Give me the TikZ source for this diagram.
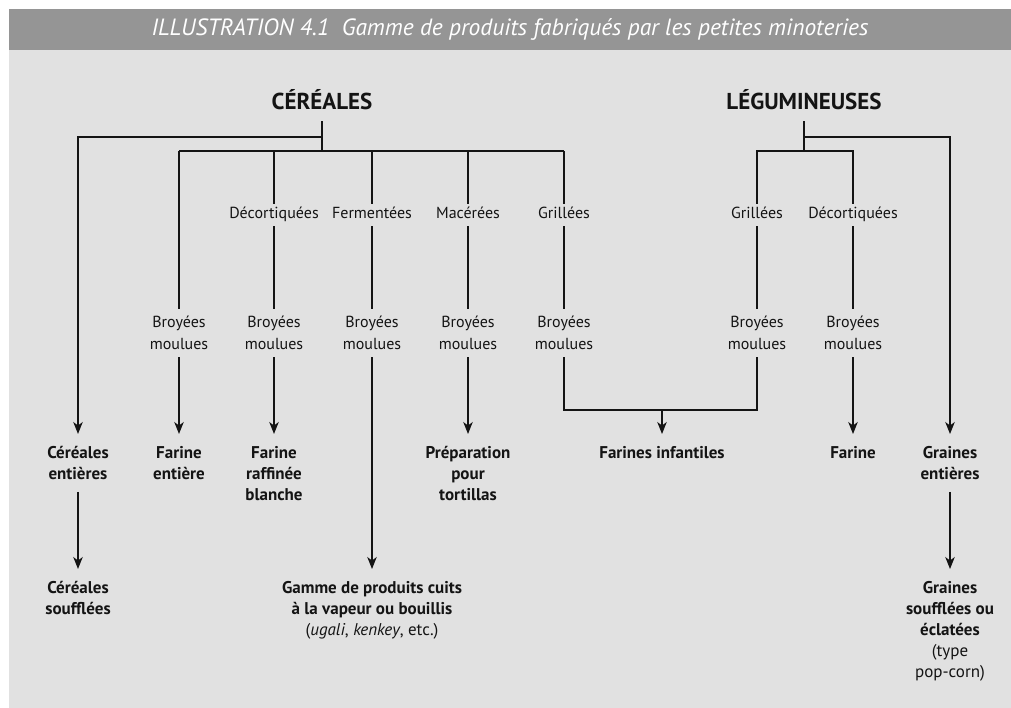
\documentclass[tikz,border=0pt]{standalone}
\usepackage{fontspec}
\setmainfont{PT Sans}
\usetikzlibrary{arrows.meta}
\definecolor{band}{HTML}{959595}
\definecolor{bodyg}{HTML}{E1E1E1}
\definecolor{ink}{HTML}{141414}
\tikzset{
  conn/.style={draw=ink, line width=1.2pt},
  arr/.style={conn, -{Stealth[length=12pt,width=9.5pt,inset=3.5pt]}},
  head/.style={font=\fontsize{23}{27}\selectfont\bfseries, text=ink, inner xsep=0pt, inner ysep=11pt},
  lab/.style={font=\fontsize{16}{22}\selectfont, text=ink, inner xsep=0pt, inner ysep=3pt, text height=12pt, text depth=4.2pt},
  bm/.style={font=\fontsize{16}{22}\selectfont, text=ink, align=center, inner xsep=0pt, inner ysep=7pt},
  prod/.style={font=\fontsize{17}{21}\selectfont\bfseries, text=ink, align=center, inner xsep=0pt, inner ysep=12pt, anchor=north},
}
\begin{document}
\begin{tikzpicture}[x=1pt,y=-1pt]
\useasboundingbox (0,0) rectangle (1011,708);
\fill[white] (0,0) rectangle (1011,708);
\fill[bodyg] (9,9) rectangle (1011,708);
\fill[band] (9,9) rectangle (1011,50);
\node[font=\fontsize{23.5}{27}\selectfont\itshape, text=white, inner sep=0pt] (title) at (510,29.5)
  {ILLUSTRATION 4.1\ \ Gamme de produits fabriqués par les petites minoteries};

% headings
\node[head] (cer) at (322,100) {CÉRÉALES};
\node[head] (leg) at (804,100) {LÉGUMINEUSES};
\coordinate (cj) at (322,151);
\coordinate (cb) at (322,137);
\coordinate (lj) at (804,151);
\coordinate (lb) at (804,137);

% treatment labels
\node[lab] (dec1) at (274,215) {Décortiquées};
\node[lab] (fer)  at (372,215) {Fermentées};
\node[lab] (mac)  at (468,215) {Macérées};
\node[lab] (gri1) at (564,215) {Grillées};
\node[lab] (gri2) at (757,215) {Grillées};
\node[lab] (dec2) at (853,215) {Décortiquées};

% Broyees moulues
\node[bm] (bm1) at (179,333) {Broyées\\moulues};
\node[bm] (bm2) at (274,333) {Broyées\\moulues};
\node[bm] (bm3) at (372,333) {Broyées\\moulues};
\node[bm] (bm4) at (468,333) {Broyées\\moulues};
\node[bm] (bm5) at (564,333) {Broyées\\moulues};
\node[bm] (bm6) at (757,333) {Broyées\\moulues};
\node[bm] (bm7) at (853,333) {Broyées\\moulues};

% products, first row
\node[prod] (ce)   at (78,434)  {Céréales\\entières};
\node[prod] (fe)   at (179,434) {Farine\\entière};
\node[prod] (fr)   at (274,434) {Farine\\raffinée\\blanche};
\node[prod] (prep) at (468,434) {Préparation\\pour\\tortillas};
\node[prod] (fi)   at (662,434) {Farines infantiles};
\node[prod] (far)  at (853,434) {Farine};
\node[prod] (ge)   at (950,434) {Graines\\entières};

% products, second row
\node[prod] (cs)  at (78,569)  {Céréales\\soufflées};
\node[prod] (gam) at (372,569) {Gamme de produits cuits\\à la vapeur ou bouillis\\{\mdseries(\textit{ugali}, \textit{kenkey}, etc.)}};
\node[prod] (gs)  at (950,569) {Graines\\soufflées ou\\éclatées\\{\mdseries(type}\\{\mdseries pop-corn)}};

% cereal tree
\draw[conn] (cer.south) -- (cj);
\draw[arr] (cb) -| (ce.north);
\draw[conn] (bm1.north |- cj) -- (gri1.north |- cj);
\draw[conn] (bm1.north |- cj) -- (bm1.north);
\foreach \n in {dec1,fer,mac,gri1} {\draw[conn] (\n.north |- cj) -- (\n.north);}
\draw[conn] (dec1.south) -- (bm2.north);
\draw[conn] (fer.south) -- (bm3.north);
\draw[conn] (mac.south) -- (bm4.north);
\draw[conn] (gri1.south) -- (bm5.north);
\draw[arr] (bm1.south) -- (fe.north);
\draw[arr] (bm2.south) -- (fr.north);
\draw[arr] (bm3.south) -- (gam.north);
\draw[arr] (bm4.south) -- (prep.north);
\draw[arr] (ce.south) -- (cs.north);

% legume tree
\draw[conn] (leg.south) -- (lj);
\draw[conn] (gri2.north) |- (lj) -| (dec2.north);
\draw[arr] (lb) -| (ge.north);
\draw[conn] (gri2.south) -- (bm6.north);
\draw[conn] (dec2.south) -- (bm7.north);
\draw[arr] (bm7.south) -- (far.north);
\draw[arr] (ge.south) -- (gs.north);

% infant flours
\coordinate (fj) at (662,410);
\draw[conn] (bm5.south) |- (fj) -| (bm6.south);
\draw[arr] (fj) -- (fi.north);
\end{tikzpicture}
\end{document}
